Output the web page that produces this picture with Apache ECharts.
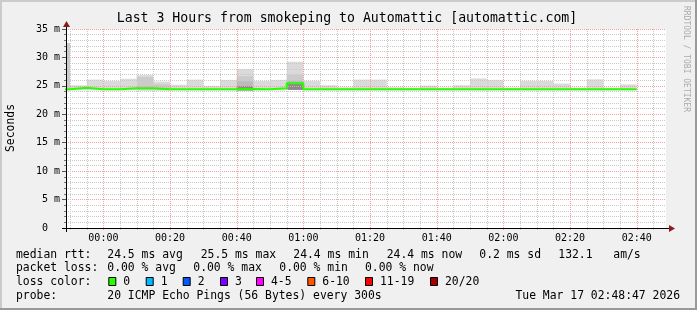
<!DOCTYPE html>
<html><head><meta charset="utf-8">
<script src="https://cdn.jsdelivr.net/npm/echarts@6/dist/echarts.min.js"></script>
<style>html,body{margin:0;padding:0;background:#f0f0f0;}#c{width:697px;height:310px;}</style>
</head><body><div id="c"></div>
<script>
// ---- time axis: minutes relative to 00:00 (23:48:47 .. 02:48:47)
const xMin = -11.2167;
const xMax = 168.7833;
const xMajorTicks = [0, 20, 40, 60, 80, 100, 120, 140, 160];
const xMajorLabels = ['00:00','00:20','00:40','01:00','01:20','01:40','02:00','02:20','02:40'];
const xMinorTicks = [-10,-5,5,10,15,25,30,35,45,50,55,65,70,75,85,90,95,105,110,115,125,130,135,145,150,155,165];

// ---- 5-minute intervals (start minute) and smoke / median values (ms)
const intervalStart = [-15,-10,-5,0,5,10,15,20,25,30,35,40,45,50,55,60,65,70,75,80,85,90,95,100,105,110,115,120,125,130,135,140,145,150,155];
const smokeMax   = [32.5,25.1,26.1,25.85,26.25,26.9,25.75,25.2,26.1,25.0,26.05,27.95,25.85,26.05,29.25,25.85,25.1,24.75,26.1,26.1,24.75,24.7,25.05,24.7,25.1,26.3,26.05,24.7,25.85,25.85,25.4,24.7,26.15,24.7,25.25];
const smokeMid   = [32.5,null,null,null,null,26.55,25.3,null,null,null,null,26.7,null,null,26.95,null,null,null,null,null,null,null,null,null,null,null,null,null,null,null,null,null,null,null,null];
const smokeInner = [null,null,null,null,null,null,null,null,null,null,null,25.8,null,null,25.9,null,null,null,null,null,null,null,null,null,null,null,null,null,null,null,null,null,null,null,null];
const smokeDark  = [null,null,null,null,null,null,null,null,null,null,null,24.95,null,null,25.3,null,null,null,null,null,null,null,null,null,null,null,null,null,null,null,null,null,null,null,null];
const smokeLow   = [24.2,24.2,24.2,24.2,24.2,24.2,24.2,24.2,24.2,24.2,24.2,24.2,24.2,24.2,24.3,24.2,24.2,24.2,24.2,24.2,24.2,24.2,24.2,24.2,24.2,24.2,24.2,24.2,24.2,24.2,24.2,24.2,24.2,24.2,24.2];
const medianRtt  = [24.4,24.65,24.4,24.4,24.6,24.6,24.4,24.4,24.4,24.4,24.4,24.45,24.4,24.6,25.45,24.4,24.4,24.4,24.4,24.4,24.4,24.4,24.4,24.4,24.4,24.4,24.4,24.4,24.4,24.4,24.4,24.4,24.4,24.4,24.4];
const lastEnd = 160;

// ---- legend texts
const titleText = 'Last 3 Hours from smokeping to Automattic [automattic.com]';
const legendRtt  = ['median rtt:','24.5 ms avg','25.5 ms max','24.4 ms min','24.4 ms now','0.2 ms sd','132.1','am/s'];
const legendLoss = ['packet loss:','0.00 % avg','0.00 % max','0.00 % min','0.00 % now'];
const lossLabels = ['0','1','2','3','4-5','6-10','11-19','20/20'];
const lossColors = ['#26ff00','#00b8ff','#0059ff','#7e00ff','#ff00ff','#ff5500','#ff0000','#a10000'];
const probeText  = ['probe:','20 ICMP Echo Pings (56 Bytes) every 300s','Tue Mar 17 02:48:47 2026'];

const MONO = "'DejaVu Sans Mono', 'Liberation Mono', monospace";
const MAJOR = '#f5a0a0';
const MINOR = '#c9c9c9';
const SMOKE = ['#dadada','#cbcbcb','#bbbbbb','#8a8a8a'];
const Y_MAX = 35;

const smokeData = intervalStart.map((s,i)=>[s, smokeLow[i], smokeMax[i]]);
const medianData = intervalStart.map((s,i)=>[s, medianRtt[i]]);
medianData.push([lastEnd, medianRtt[medianRtt.length-1]]);

const chart = echarts.init(document.getElementById('c'), null, {renderer:'canvas', width:697, height:310});

const graphics = [];
// borders
graphics.push({type:'rect', shape:{x:0,y:0,width:697,height:2}, style:{fill:'#cbcbcb'}, z:100});
graphics.push({type:'rect', shape:{x:0,y:0,width:2,height:310}, style:{fill:'#cbcbcb'}, z:100});
graphics.push({type:'rect', shape:{x:0,y:308,width:697,height:2}, style:{fill:'#999999'}, z:100});
graphics.push({type:'rect', shape:{x:695,y:0,width:2,height:310}, style:{fill:'#999999'}, z:100});
// title
graphics.push({type:'text', x:347, y:19, z:100, style:{text:titleText, font:"13.2px "+MONO, fill:'#000', align:'center', verticalAlign:'middle'}});
// y name
graphics.push({type:'text', x:11, y:128, rotation:Math.PI/2, z:100, style:{text:'Seconds', font:"11.4px "+MONO, fill:'#000', align:'center', verticalAlign:'middle'}});
// watermark
graphics.push({type:'text', x:686, y:59, rotation:-Math.PI/2, z:100, style:{text:'RRDTOOL / TOBI OETIKER', font:"8px "+MONO, fill:'#ababab', align:'center', verticalAlign:'middle'}});
// axis lines and arrows
graphics.push({type:'line', shape:{x1:62,y1:228.5,x2:670,y2:228.5}, style:{stroke:'#000',lineWidth:1}, z:90});
graphics.push({type:'polygon', shape:{points:[[669,225],[675,228.5],[669,232]]}, style:{fill:'#8b1a1a'}, z:91});
graphics.push({type:'line', shape:{x1:66.5,y1:232,x2:66.5,y2:26}, style:{stroke:'#000',lineWidth:1}, z:90});
graphics.push({type:'polygon', shape:{points:[[63,27],[66.5,21],[70,27]]}, style:{fill:'#8b1a1a'}, z:91});

// legend
const F = "11.4px "+MONO;
function txt(t,x,y){ graphics.push({type:'text', x:x, y:y, z:100, style:{text:t, font:F, fill:'#000', align:'left', verticalAlign:'middle'}}); }
const rttX = [16,107.3,200.7,293.3,386.7,479.3,558.3,613.3];
legendRtt.forEach((t,i)=>txt(t,rttX[i],254.7));
const lossX = [16,107.3,193.3,279.3,365];
legendLoss.forEach((t,i)=>txt(t,lossX[i],268.3));
txt('loss color:',16,281.9);
const boxX = [108.3,145.7,182.7,220,256,307.3,365,430];
lossLabels.forEach((t,i)=>{
  graphics.push({type:'rect', shape:{x:boxX[i]+0.5,y:277.5,width:7,height:8}, style:{fill:lossColors[i], stroke:'#000', lineWidth:1}, z:100});
  txt(t, boxX[i]+15, 281.9);
});
txt(probeText[0],16,295.7);
txt(probeText[1],107.3,295.7);
graphics.push({type:'text', x:680, y:295.7, z:100, style:{text:probeText[2], font:F, fill:'#000', align:'right', verticalAlign:'middle'}});

// vertical grid line renderer (drawn through the axis scales)
function gridRenderer(color, below){
  return (params, api)=>{
    const v = api.value(0);
    const top = api.coord([v, Y_MAX]);
    const bot = api.coord([v, 0]);
    const x = Math.round(top[0]) + 0.5;
    return {type:'line', shape:{x1:x, y1:top[1], x2:x, y2:bot[1]+below},
            style:{stroke:color, lineWidth:1, lineDash:[1,1]}};
  };
}

const option = {
  animation:false,
  backgroundColor:'#f0f0f0',
  grid:{left:66, top:29, width:600, height:199, show:true, backgroundColor:'#ffffff', borderWidth:0},
  xAxis:{type:'value', min:xMin, max:xMax, z:4, position:'bottom',
     axisLine:{show:false, onZero:false},
     axisTick:{show:false},
     axisLabel:{show:true, customValues:xMajorTicks, formatter:(v)=>{const i=xMajorTicks.indexOf(Math.round(v)); return i>=0?xMajorLabels[i]:'';}, fontFamily:MONO, fontSize:10, color:'#000', margin:5},
     splitLine:{show:false}},
  yAxis:{type:'value', min:0, max:Y_MAX, interval:5, z:3, position:'left',
    axisLine:{show:false, onZero:false},
    axisTick:{show:true, length:4, lineStyle:{color:'#555'}},
    minorTick:{show:true, splitNumber:5, length:2, lineStyle:{color:'#777'}},
    splitLine:{show:true, lineStyle:{color:MAJOR, type:[1,1], width:1}},
    minorSplitLine:{show:true, lineStyle:{color:MINOR, type:[1,1], width:1}},
    axisLabel:{formatter:(v)=> v===0 ? '0  ' : (v+' m'), fontFamily:MONO, fontSize:10, color:'#000', margin:6}
  },
  series:[
    {type:'custom', name:'smoke', clip:true, z:2,
     data:smokeData, encode:{x:0, y:[1,2]},
     renderItem:(params, api)=>{
       const i = params.dataIndex;
       const s = api.value(0);
       const low = api.value(1);
       const x0 = api.coord([s, low])[0];
       const x1 = api.coord([s+5, low])[0];
       const yb = api.coord([s, low])[1];
       const tops = [smokeMax[i], smokeMid[i], smokeInner[i], smokeDark[i]];
       const children = [];
       tops.forEach((t,k)=>{
         if(t==null) return;
         const yt = api.coord([s, t])[1];
         children.push({type:'rect', shape:{x:x0, y:yt, width:x1-x0, height:yb-yt}, style:{fill:SMOKE[k]}});
       });
       return {type:'group', children:children};
     }},
    {type:'custom', name:'minor grid', clip:false, z:3, silent:true,
     data:xMinorTicks.map(v=>[v]), encode:{x:0},
     renderItem:gridRenderer(MINOR, 2)},
    {type:'custom', name:'major grid', clip:false, z:4, silent:true,
     data:xMajorTicks.map(v=>[v]), encode:{x:0},
     renderItem:gridRenderer(MAJOR, 3)},
    {type:'line', name:'median rtt', step:'end', data:medianData, showSymbol:false, z:6, clip:true,
     lineStyle:{color:'#26ff00', width:2}}
  ],
  graphic:graphics
};
chart.setOption(option);
</script>
</body></html>
